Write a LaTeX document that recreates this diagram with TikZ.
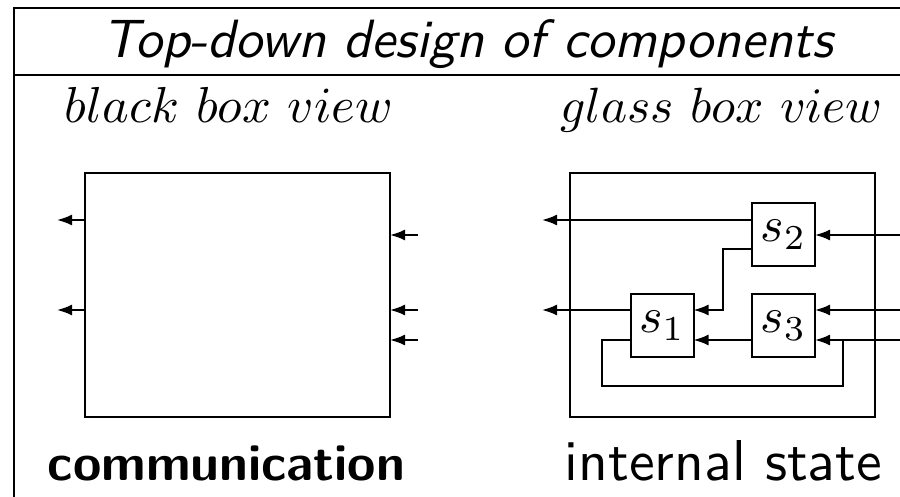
\documentclass[tikz,border=0pt]{standalone}
\usetikzlibrary{arrows.meta}
\begin{document}
\begin{tikzpicture}[x=1pt,y=-1pt,
  rule/.style={line width=2pt},
  frame/.style={draw, line width=2pt, inner sep=0pt, outer sep=0pt, minimum width=305pt, minimum height=244pt},
  sbox/.style={draw, line width=2pt, minimum width=63pt, minimum height=63pt, inner sep=0pt, outer sep=0pt},
  wire/.style={line width=2pt},
  arr/.style={line width=2pt, -{Latex[length=15pt,width=11pt]}},
  lbl/.style={anchor=base, inner sep=0pt}]
\useasboundingbox (0,0) rectangle (900,497);
% table rules
\coordinate (tl) at (14,8);
\coordinate (bl) at (14,497);
\coordinate (tr) at (900,8);
\coordinate (ml) at (14,75);
\coordinate (mr) at (900,75);
\draw[rule] (bl) -- (tl) -- (tr);
\draw[rule] (ml) -- (mr);
% headings
\node[lbl] (title) at (468,58) {\resizebox{730pt}{!}{\sffamily\itshape Top-down design of components}};
\node[lbl] (bbv) at (229,123) {\resizebox{328pt}{!}{$black\ box\ view$}};
\node[lbl] (gbv) at (721.5,123) {\resizebox{323pt}{!}{$glass\ box\ view$}};
% y levels
\coordinate (ya) at (0,220);
\coordinate (yb) at (0,235);
\coordinate (yc) at (0,249);
\coordinate (yd) at (0,310);
\coordinate (ye) at (0,340);
% black box
\node[frame] (bb) at (237.5,295) {};
\coordinate (bo1) at (57,220);
\coordinate (bo2) at (57,310);
\coordinate (bi1) at (418,235);
\coordinate (bi2) at (418,310);
\coordinate (bi3) at (418,340);
\draw[arr] (bb.west |- bo1) -- (bo1);
\draw[arr] (bb.west |- bo2) -- (bo2);
\draw[arr] (bi1) -- (bi1 -| bb.east);
\draw[arr] (bi2) -- (bi2 -| bb.east);
\draw[arr] (bi3) -- (bi3 -| bb.east);
% glass box
\node[frame] (gb) at (722.5,295) {};
\node[sbox] (s2) at (783.5,234.5) {\scalebox{5}{$s_2$}};
\node[sbox] (s1) at (662,325.5) {\scalebox{5}{$s_1$}};
\node[sbox] (s3) at (783.5,325.5) {\scalebox{5}{$s_3$}};
\coordinate (go1) at (542,220);
\coordinate (go2) at (542,310);
\coordinate (gi1) at (900,235);
\coordinate (gi2) at (900,310);
\coordinate (gi3) at (900,340);
\coordinate (k1) at (723,249);
\coordinate (fb1) at (843,340);
\coordinate (fb2) at (602,386);
\draw[arr] (s2.west |- go1) -- (go1);
\draw[arr] (gi1) -- (gi1 -| s2.east);
\draw[arr] (s2.west |- k1) -- (k1) |- (s1.east |- yd);
\draw[arr] (s1.west |- yd) -- (go2);
\draw[arr] (gi2) -- (gi2 -| s3.east);
\draw[arr] (gi3) -- (gi3 -| s3.east);
\draw[arr] (s3.west |- ye) -- (s1.east |- ye);
\draw[wire] (fb1) |- (fb2) |- (s1.west |- ye);
% captions
\node[lbl] (comm) at (226.5,480) {\resizebox{357pt}{!}{\sffamily\bfseries communication}};
\node[lbl] (ints) at (723.5,480) {\resizebox{317pt}{!}{\sffamily internal state}};
\end{tikzpicture}
\end{document}
